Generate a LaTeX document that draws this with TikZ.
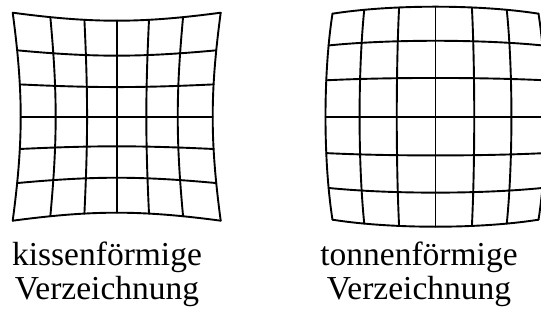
\documentclass[tikz,border=0pt]{standalone}
\usepackage{fontspec}
\setmainfont{Liberation Serif}
\usetikzlibrary{positioning}

\begin{document}
\begin{tikzpicture}[x=1pt,y=-1pt,
  gitter/.style={line width=1.9pt,line join=round,line cap=round},
  beschr/.style={font=\fontsize{33.5}{34}\selectfont,align=center,inner sep=0pt,anchor=north}]
  \useasboundingbox (0,0) rectangle (541,320);
  % kissenfoermig (k>0), tonnenfoermig (k<0)
  \foreach \cx/\s/\k in {116.7/88/0.0909, 435.5/117/-0.0598}{
    \foreach \i in {-3,...,3}{
      \draw[gitter] plot[variable=\t,domain=-1:1,samples=31,smooth]
        ({\cx+\s*(\i/3)*(1+\k*((\i/3)*(\i/3)+\t*\t))},{116.7+\s*\t*(1+\k*((\i/3)*(\i/3)+\t*\t))});
      \draw[gitter] plot[variable=\t,domain=-1:1,samples=31,smooth]
        ({\cx+\s*\t*(1+\k*((\i/3)*(\i/3)+\t*\t))},{116.7+\s*(\i/3)*(1+\k*((\i/3)*(\i/3)+\t*\t))});
    }
  }
  \node[beschr] (kissen) at (107,242.2) {kissenförmige\\Verzeichnung};
  \node[beschr] (tonne) at (419,242.2) {tonnenförmige\\Verzeichnung};
\end{tikzpicture}
\end{document}
